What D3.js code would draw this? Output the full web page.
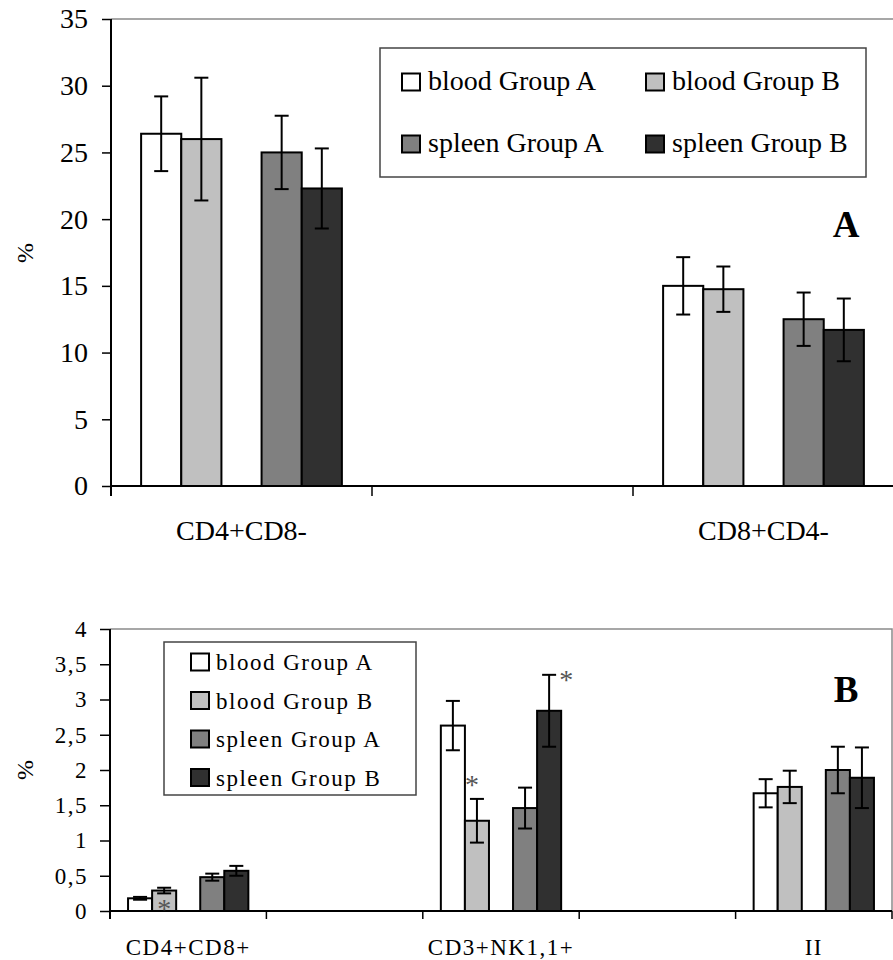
<!DOCTYPE html>
<html>
<head>
<meta charset="utf-8">
<script src="https://cdn.jsdelivr.net/npm/d3@7"></script>
<style>
  body { margin: 0; background: #fff; }
  svg { display: block; font-family: "Liberation Serif", "Times New Roman", serif; }
</style>
</head>
<body>
<svg id="chart" width="893" height="960"></svg>
<script>
// --- data ---
var seriesNames = ["blood Group A", "blood Group B", "spleen Group A", "spleen Group B"];
var seriesColors = ["#ffffff", "#c0c0c0", "#808080", "#303030"];

// panel A
var categoriesA = ["CD4+CD8-", "", "CD8+CD4-"];
var valuesA = [
  [26.4, null, 15.0],
  [26.0, null, 14.75],
  [25.0, null, 12.5],
  [22.3, null, 11.7]
];
var errorsA = [
  [2.8, null, 2.15],
  [4.6, null, 1.7],
  [2.75, null, 2.0],
  [3.0, null, 2.35]
];
var yTicksA = [0, 5, 10, 15, 20, 25, 30, 35];

// panel B
var categoriesB = ["CD4+CD8+", "", "CD3+NK1,1+", "", "II"];
var valuesB = [
  [0.18, null, 2.63, null, 1.67],
  [0.29, null, 1.28, null, 1.76],
  [0.48, null, 1.46, null, 2.0],
  [0.57, null, 2.84, null, 1.89]
];
var errorsB = [
  [0.02, null, 0.35, null, 0.2],
  [0.04, null, 0.31, null, 0.23],
  [0.05, null, 0.29, null, 0.33],
  [0.07, null, 0.51, null, 0.43]
];
var yTicksB = [0, 0.5, 1, 1.5, 2, 2.5, 3, 3.5, 4];
// significance marks: category, series, where it sits
var starsB = [
  { cat: 0, s: 1, place: "inside" },
  { cat: 2, s: 1, place: "above" },
  { cat: 2, s: 3, place: "right" }
];

var commaFmt = d3.formatLocale({ decimal: ",", thousands: " ", grouping: [3], currency: ["", ""] }).format(".1~f");

var svg = d3.select("#chart");

function drawPanel(cfg) {
  var g = svg.append("g");
  var p = cfg.plot;

  var x = d3.scaleBand()
    .domain(d3.range(cfg.categories.length))
    .range([p.left, p.right]);

  // 5 slots per group, slot 2 stays empty
  var slotOf = [0, 1, 3, 4];
  var x1 = d3.scaleBand()
    .domain(d3.range(5))
    .range([0, x.bandwidth()])
    .paddingOuter(0.75);

  var y = d3.scaleLinear()
    .domain([cfg.yTicks[0], cfg.yTicks[cfg.yTicks.length - 1]])
    .range([p.bottom, p.top]);

  // plot border (top + right)
  g.append("path")
    .attr("d", "M" + p.left + "," + p.top + "H" + p.right + "V" + p.bottom)
    .attr("fill", "none")
    .attr("stroke", "#8a8a8a")
    .attr("stroke-width", 1.5);

  // bars
  var bars = [];
  cfg.values.forEach(function (row, s) {
    row.forEach(function (v, c) {
      if (v === null) return;
      bars.push({ s: s, c: c, v: v, e: cfg.errors[s][c] });
    });
  });

  function barX(d) { return x(d.c) + x1(slotOf[d.s]); }

  g.selectAll("rect.bar")
    .data(bars)
    .join("rect")
    .attr("class", "bar")
    .attr("x", barX)
    .attr("y", function (d) { return y(d.v); })
    .attr("width", x1.bandwidth())
    .attr("height", function (d) { return y(0) - y(d.v); })
    .attr("fill", function (d) { return seriesColors[d.s]; })
    .attr("stroke", "#000")
    .attr("stroke-width", 2);

  // error bars
  var cap = 7;
  var eb = g.selectAll("g.err").data(bars).join("g").attr("class", "err")
    .attr("stroke", "#000").attr("stroke-width", 2);
  eb.append("line")
    .attr("x1", function (d) { return barX(d) + x1.bandwidth() / 2; })
    .attr("x2", function (d) { return barX(d) + x1.bandwidth() / 2; })
    .attr("y1", function (d) { return y(d.v + d.e); })
    .attr("y2", function (d) { return y(d.v - d.e); });
  [1, -1].forEach(function (sign) {
    eb.append("line")
      .attr("x1", function (d) { return barX(d) + x1.bandwidth() / 2 - cap; })
      .attr("x2", function (d) { return barX(d) + x1.bandwidth() / 2 + cap; })
      .attr("y1", function (d) { return y(d.v + sign * d.e); })
      .attr("y2", function (d) { return y(d.v + sign * d.e); });
  });

  // y axis
  var yAxis = d3.axisLeft(y)
    .tickValues(cfg.yTicks)
    .tickFormat(cfg.tickFormat)
    .tickSize(cfg.tickLen)
    .tickSizeOuter(0)
    .tickPadding(cfg.tickPad);
  var ya = g.append("g")
    .attr("transform", "translate(" + p.left + ",0)")
    .call(yAxis);
  ya.select(".domain").remove();
  ya.selectAll(".tick line").attr("stroke", "#000").attr("stroke-width", 1.5);
  ya.selectAll(".tick text")
    .attr("fill", "#000")
    .style("font-family", "Liberation Serif, serif")
    .style("font-size", cfg.tickFont + "px")
    .style("letter-spacing", cfg.spacing + "px");

  // axis lines
  g.append("line")
    .attr("x1", p.left).attr("x2", p.left)
    .attr("y1", p.top).attr("y2", p.bottom + cfg.xTickLen)
    .attr("stroke", "#000").attr("stroke-width", 2);
  g.append("line")
    .attr("x1", p.left).attr("x2", p.right)
    .attr("y1", y(0)).attr("y2", y(0))
    .attr("stroke", "#000").attr("stroke-width", 2);

  // category boundary ticks
  g.selectAll("line.xt")
    .data(d3.range(1, cfg.categories.length + 1))
    .join("line")
    .attr("class", "xt")
    .attr("x1", function (i) { return p.left + i * x.step(); })
    .attr("x2", function (i) { return p.left + i * x.step(); })
    .attr("y1", p.bottom).attr("y2", p.bottom + cfg.xTickLen)
    .attr("stroke", "#000").attr("stroke-width", 1.5);

  // category labels
  g.selectAll("text.cat")
    .data(cfg.categories)
    .join("text")
    .attr("class", "cat")
    .attr("x", function (d, i) { return x(i) + x.bandwidth() / 2; })
    .attr("y", cfg.catY)
    .attr("text-anchor", "middle")
    .style("font-size", cfg.catFont + "px")
    .style("letter-spacing", cfg.spacing + "px")
    .text(function (d) { return d; });

  // y label
  g.append("text")
    .attr("transform", "translate(" + cfg.yLabel[0] + "," + cfg.yLabel[1] + ") rotate(-90)")
    .attr("text-anchor", "middle")
    .attr("dy", "0.35em")
    .style("font-size", "24px")
    .text("%");

  // panel letter
  g.append("text")
    .attr("x", cfg.letterPos[0])
    .attr("y", cfg.letterPos[1])
    .attr("text-anchor", "middle")
    .style("font-size", "37px")
    .style("font-weight", "bold")
    .text(cfg.letter);

  // legend
  var L = cfg.legend;
  g.append("rect")
    .attr("x", L.x).attr("y", L.y)
    .attr("width", L.w).attr("height", L.h)
    .attr("fill", "#fff")
    .attr("stroke", "#444")
    .attr("stroke-width", 1.5);
  var items = g.selectAll("g.li")
    .data(seriesNames)
    .join("g")
    .attr("class", "li")
    .attr("transform", function (d, i) {
      var col = i % L.cols, row = Math.floor(i / L.cols);
      return "translate(" + (L.x + L.padX + col * L.colW) + "," + (L.y + L.padY + row * L.rowH) + ")";
    });
  items.append("rect")
    .attr("x", 0).attr("y", -8.5)
    .attr("width", 18).attr("height", 17)
    .attr("fill", function (d, i) { return seriesColors[i]; })
    .attr("stroke", "#000")
    .attr("stroke-width", 2);
  items.append("text")
    .attr("x", L.textDx)
    .attr("y", L.baseDy)
    .style("font-size", L.font + "px")
    .style("letter-spacing", cfg.spacing + "px")
    .text(function (d) { return d; });

  // asterisks
  (cfg.stars || []).forEach(function (st) {
    var d = { s: st.s, c: st.cat, v: cfg.values[st.s][st.cat], e: cfg.errors[st.s][st.cat] };
    var bx = barX(d), bw = x1.bandwidth();
    var cx, cy;
    if (st.place === "inside") { cx = bx + bw / 2; cy = y(0) - 6; }
    else if (st.place === "above") { cx = bx + 7; cy = y(d.v + d.e) - 18; }
    else { cx = bx + bw + 5; cy = y(d.v + d.e) + 1; }
    g.append("text")
      .attr("x", cx)
      .attr("y", cy + 13)
      .attr("text-anchor", "middle")
      .attr("fill", "#555")
      .style("font-size", "28px")
      .text("*");
  });
}

drawPanel({
  plot: { left: 111, right: 894, top: 19, bottom: 486 },
  categories: categoriesA,
  values: valuesA,
  errors: errorsA,
  yTicks: yTicksA,
  tickFormat: d3.format("d"),
  tickLen: 9, tickPad: 14, tickFont: 28, spacing: 0,
  xTickLen: 10,
  catY: 540, catFont: 28,
  yLabel: [25, 253],
  letter: "A", letterPos: [846, 237],
  legend: { x: 380, y: 48, w: 486, h: 129, cols: 2, colW: 244, rowH: 62, padX: 22, padY: 34, textDx: 26, baseDy: 8, font: 28 }
});

drawPanel({
  plot: { left: 110, right: 892, top: 629, bottom: 911 },
  categories: categoriesB,
  values: valuesB,
  errors: errorsB,
  yTicks: yTicksB,
  tickFormat: commaFmt,
  tickLen: 10, tickPad: 12, tickFont: 23, spacing: 1.5,
  xTickLen: 8,
  catY: 955, catFont: 23,
  yLabel: [25, 770],
  letter: "B", letterPos: [846, 702],
  stars: starsB,
  legend: { x: 164, y: 642, w: 252, h: 153, cols: 1, colW: 0, rowH: 38.5, padX: 27, padY: 20, textDx: 25, baseDy: 8, font: 23 }
});
</script>
</body>
</html>
